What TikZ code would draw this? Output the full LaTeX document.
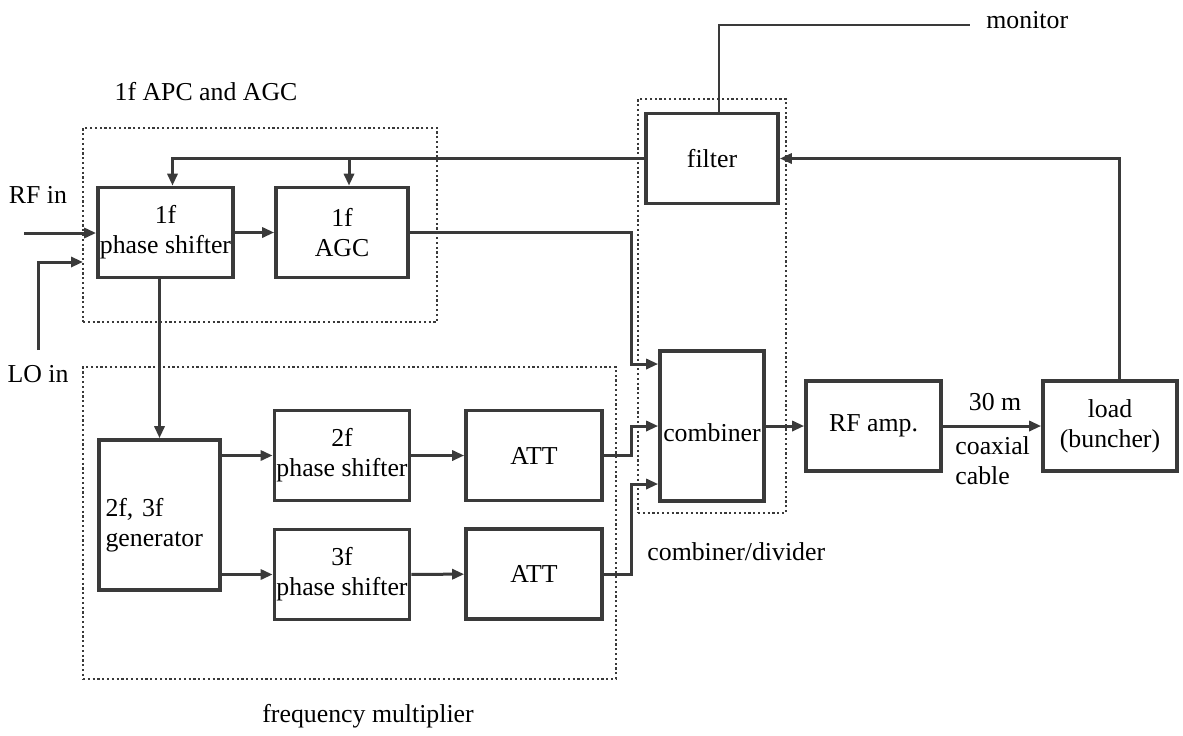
\documentclass[tikz,border=0pt]{standalone}
\usepackage{fontspec}
\setmainfont{Liberation Serif}
\usepackage{tikz}
\usetikzlibrary{arrows.meta,positioning,calc,fit}
\definecolor{inkgray}{RGB}{58,58,58}

\begin{document}
\begin{tikzpicture}[
    x=0.5pt, y=-0.5pt,
    >={Triangle[length=6pt,width=5pt]},
    every node/.style={font=\fontsize{12.9}{15}\selectfont},
    block/.style={rectangle,draw=inkgray,line width=1.8pt,minimum width=66pt,minimum height=45pt,inner sep=1pt,align=center},
    dotbox/.style={draw=inkgray,line width=0.7pt,dash pattern=on 1.1pt off 1.3pt,inner sep=0pt},
    lbl/.style={inner sep=0pt},
    wire/.style={draw=inkgray,line width=1.5pt},
    thinwire/.style={draw=inkgray,line width=1pt}
  ]
    \useasboundingbox (0,0) rectangle (1183,735);

    \node[block] (ps1)    at (165.5,232.5) {1f\\phase shifter};
    \node[block] (agc)    at (342,232.5)   {1f\\AGC};
    \node[block,minimum width=60.5pt,minimum height=75pt,align=left,text width=54pt] (gen) at (159.5,515) {\rule{0pt}{19pt}2f, 3f\\generator};
    \node[block] (ps2)    at (342,455.5)   {2f\\phase shifter};
    \node[block] (ps3)    at (342,574.5)   {3f\\phase shifter};
    \node[block,minimum width=68pt] (att1) at (534,455.5) {ATT};
    \node[block,minimum width=68pt] (att2) at (534,574)   {ATT};
    \node[block] (filter) at (712,158.5)   {filter};
    \node[block,minimum width=52pt,minimum height=75pt] (comb) at (712,426) {\rule{0pt}{16pt}combiner};
    \node[block,minimum width=67.5pt] (rfamp) at (873.5,426) {RF amp.};
    \node[block,minimum width=67pt]   (load)  at (1110,426)  {load\\(buncher)};

    % dotted groups
    \node[dotbox,fit={(83,128) (437,322)}]  (apc)  {};
    \node[dotbox,fit={(83,367) (616,679)}]  (fmul) {};
    \node[dotbox,fit={(638,99) (786,513)}]  (cdiv) {};

    \node[lbl] (rfinlbl) at (38,195) {RF in};
    \node[lbl] (loinlbl) at (38,374) {LO in};
    \node[lbl] (apclbl)  at (206,92) {1f APC and AGC};
    \node[lbl,anchor=west] (fmullbl) at (262,716) {frequency multiplier};
    \node[lbl,anchor=west] (cdivlbl) at (647,552) {combiner/divider};
    \node[lbl,anchor=west] (monlbl)  at (986,20)  {monitor};
    \node[lbl] (cablelen) at (995,402) {30 m};
    \node[lbl,anchor=west,align=left] (cabletype) at (955,461) {coaxial\\cable};

    \coordinate (rfin)  at (24,233);
    \coordinate (loin)  at (38,350);
    \coordinate (loend) at (83,262);
    \coordinate (mon)   at (970,25);
    \coordinate (fbps)  at ($(ps1.north)+(7,0)$);
    \coordinate (fbagc) at ($(agc.north)+(7,0)$);

    \draw[wire,->] (rfin) -- (rfin -| ps1.west);
    \draw[wire,->] (loin) |- (loend);
    \draw[wire,->] (ps1) -- (agc);
    \draw[wire,->] (ps1.south -| gen.north) -- (gen.north);
    \draw[wire,->] (gen.east |- ps2) -- (ps2);
    \draw[wire,->] (gen.east |- ps3) -- (ps3);
    \draw[wire,->] (ps2) -- (att1);
    \draw[wire,->] (ps3) -- (att2);
    \draw[wire,->] (agc.east) -- ++(222,0) |- ([yshift=31pt]comb.west);
    \draw[wire,->] (att1.east) -- ++(28,0) |- (comb.west);
    \draw[wire,->] (att2.east) -- ++(28,0) |- ([yshift=-29pt]comb.west);
    \draw[wire,->] (comb) -- (rfamp);
    \draw[wire,->] (rfamp) -- (load);

    % feedback loop
    \draw[wire,->] ($(load.north)+(9,0)$) |- (filter.east);
    \draw[wire,->] (filter.west) -| (fbps);
    \draw[wire,->] (fbagc |- filter.west) -- (fbagc);
    \draw[thinwire] ($(filter.north)+(7,0)$) |- (mon);
\end{tikzpicture}
\end{document}
